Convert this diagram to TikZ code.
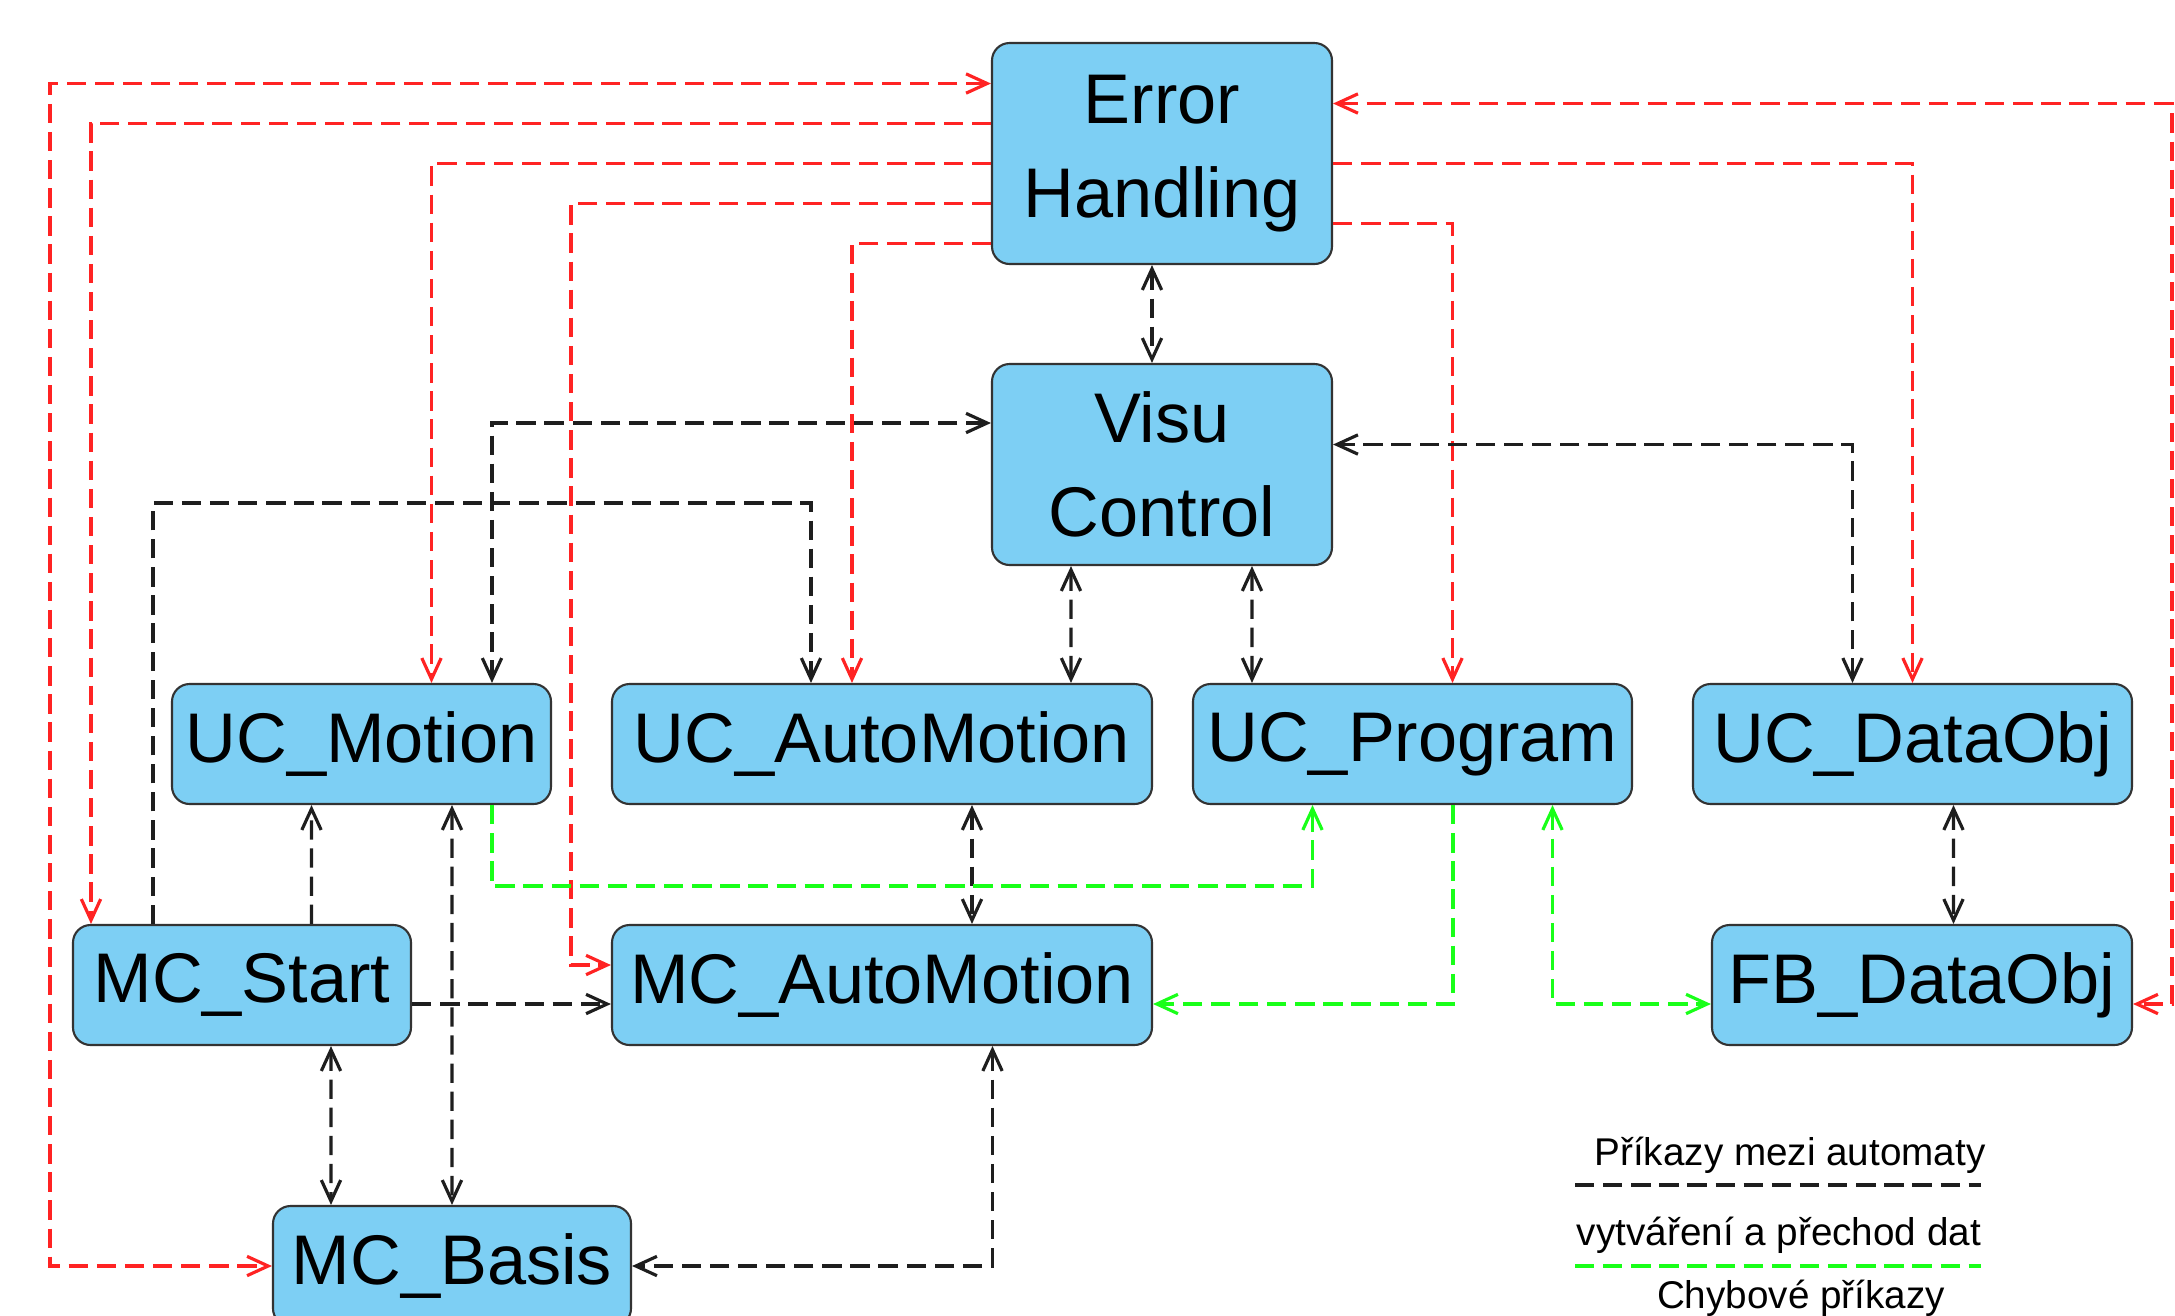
\documentclass[tikz,border=0pt]{standalone}
\usepackage{fontspec}
\setmainfont{Liberation Sans}
\usetikzlibrary{arrows.meta}

\definecolor{boxblue}{RGB}{125,207,244}
\definecolor{errred}{RGB}{255,35,35}
\definecolor{datgreen}{RGB}{25,255,25}
\definecolor{cmdgray}{RGB}{30,30,30}

\tikzset{
  block/.style={draw=black!80, line width=0.6pt, fill=boxblue, rounded corners=5pt,
    inner sep=0pt, minimum height=1.2cm, align=center,
    font=\fontsize{20pt}{26.7pt}\selectfont},
  link/.style={line width=0.9pt, dash pattern=on 5.5pt off 2.5pt,
    >={Straight Barb[length=6pt,width=5.5pt]}},
  cmd/.style={link, draw=cmdgray},
  err/.style={link, draw=errred},
  dat/.style={link, draw=datgreen},
  legend/.style={font=\fontsize{11pt}{13pt}\selectfont, inner sep=0pt, anchor=base},
}

\begin{document}
\begin{tikzpicture}
			%%%%% FRAME %%%%%
			\clip (0,0) rectangle (21.75,-13.15);
			\useasboundingbox (0,0) rectangle (21.75,-13.15);
			
			%%%%% BLOCKS %%%%%
			\node[block, minimum width=3.40cm, minimum height=2.21cm] (eh) at (11.62,-1.535) {Error\\Handling};
			\node[block, minimum width=3.40cm, minimum height=2.01cm] (vc) at (11.62,-4.645) {Visu\\Control};
			
			\node[block, minimum width=3.79cm] (ucm) at (3.615,-7.44) {UC\_Motion};
			\node[block, minimum width=5.40cm] (uca) at (8.82,-7.44) {UC\_AutoMotion};
			\node[block, minimum width=4.39cm] (ucp) at (14.125,-7.44) {UC\_Program};
			\node[block, minimum width=4.39cm] (ucd) at (19.125,-7.44) {UC\_DataObj};
			
			\node[block, minimum width=3.38cm] (mcs) at (2.42,-9.85) {MC\_Start};
			\node[block, minimum width=5.40cm] (mca) at (8.82,-9.85) {MC\_AutoMotion};
			\node[block, minimum width=4.20cm] (fbd) at (19.22,-9.85) {FB\_DataObj};
			
			\node[block, minimum width=3.58cm] (mcb) at (4.52,-12.66) {MC\_Basis};
			
			%%%%% ERROR LINKS %%%%%
			\draw[err,<->] ([yshift=7mm]eh.west) -| ([xshift=-2.22cm]mcb.west) -- (mcb.west);
			\draw[err,->] ([yshift=3mm]eh.west) -| ([xshift=-1.51cm]mcs.north);
			\draw[err,->] ([yshift=-1mm]eh.west) -| ([xshift=7mm]ucm.north);
			\draw[err,->] ([yshift=-5mm]eh.west) -| ([xshift=-4mm,yshift=2mm]mca.west) -- ([yshift=2mm]mca.west);
			\draw[err,->] ([yshift=-9mm]eh.west) -| ([xshift=-3mm]uca.north);
			\draw[err,<->] ([yshift=5mm]eh.east) -| ([xshift=3.9mm,yshift=-1.9mm]fbd.east) -- ([yshift=-1.9mm]fbd.east);
			\draw[err,->] ([yshift=-1mm]eh.east) -| (ucd.north);
			\draw[err,->] ([yshift=-7mm]eh.east) -| ([xshift=4mm]ucp.north);
			
			%%%%% COMMAND LINKS %%%%%
			\draw[cmd,<->] ([xshift=-1mm]eh.south) -- ([xshift=-1mm]vc.north);
			\draw[cmd,<->] ([yshift=4.15mm]vc.west) -| ([xshift=13.05mm]ucm.north);
			\draw[cmd,->] ([xshift=-8.9mm]mcs.north) -- ++(0,4.21) -| ([xshift=-7.1mm]uca.north);
			\draw[cmd,<->] ([xshift=-9.1mm]vc.south) -- ([xshift=18.9mm]uca.north);
			\draw[cmd,<->] ([xshift=9mm]vc.south) -- ([xshift=-16.05mm]ucp.north);
			\draw[cmd,<->] ([xshift=-6mm]ucd.north) |- ([yshift=2mm]vc.east);
			\draw[cmd,->] ([xshift=6.95mm]mcs.north) -- ([xshift=-5mm]ucm.south);
			\draw[cmd,<->] ([xshift=9.05mm]ucm.south) -- (mcb.north);
			\draw[cmd,<->] ([xshift=8.9mm]mcs.south) -- ([xshift=-12.1mm]mcb.north);
			\draw[cmd,->] ([yshift=-1.9mm]mcs.east) -- ([yshift=-1.9mm]mca.west);
			\draw[cmd,<->] ([xshift=9mm]uca.south) -- ([xshift=9mm]mca.north);
			\draw[cmd,<->] ([xshift=11.05mm]mca.south) |- (mcb.east);
			\draw[cmd,<->] ([xshift=4.1mm]ucd.south) -- ([xshift=3.15mm]fbd.north);
			
			%%%%% DATA LINKS %%%%%
			\draw[dat,->] ([xshift=13.05mm]ucm.south) -- ++(0,-0.81) -| ([xshift=-10mm]ucp.south);
			\draw[dat,->] ([xshift=4.05mm]ucp.south) |- ([yshift=-1.9mm]mca.east);
			\draw[dat,<->] ([xshift=14mm]ucp.south) |- ([yshift=-1.9mm]fbd.west);
			
			%%%%% LEGEND %%%%%
			\node[legend] (lgcmd) at (17.9,-11.65) {Příkazy mezi automaty};
			\coordinate (lgcmdA) at (15.75,-11.85);
			\coordinate (lgcmdB) at (19.81,-11.85);
			\draw[cmd] (lgcmdA) -- (lgcmdB);
			
			\node[legend] (lgdat) at (17.79,-12.45) {vytváření a přechod dat};
			\coordinate (lgdatA) at (15.75,-12.66);
			\coordinate (lgdatB) at (19.81,-12.66);
			\draw[dat] (lgdatA) -- (lgdatB);
			
			\node[legend] (lgerr) at (18.01,-13.08) {Chybové příkazy};
\end{tikzpicture}
\end{document}
